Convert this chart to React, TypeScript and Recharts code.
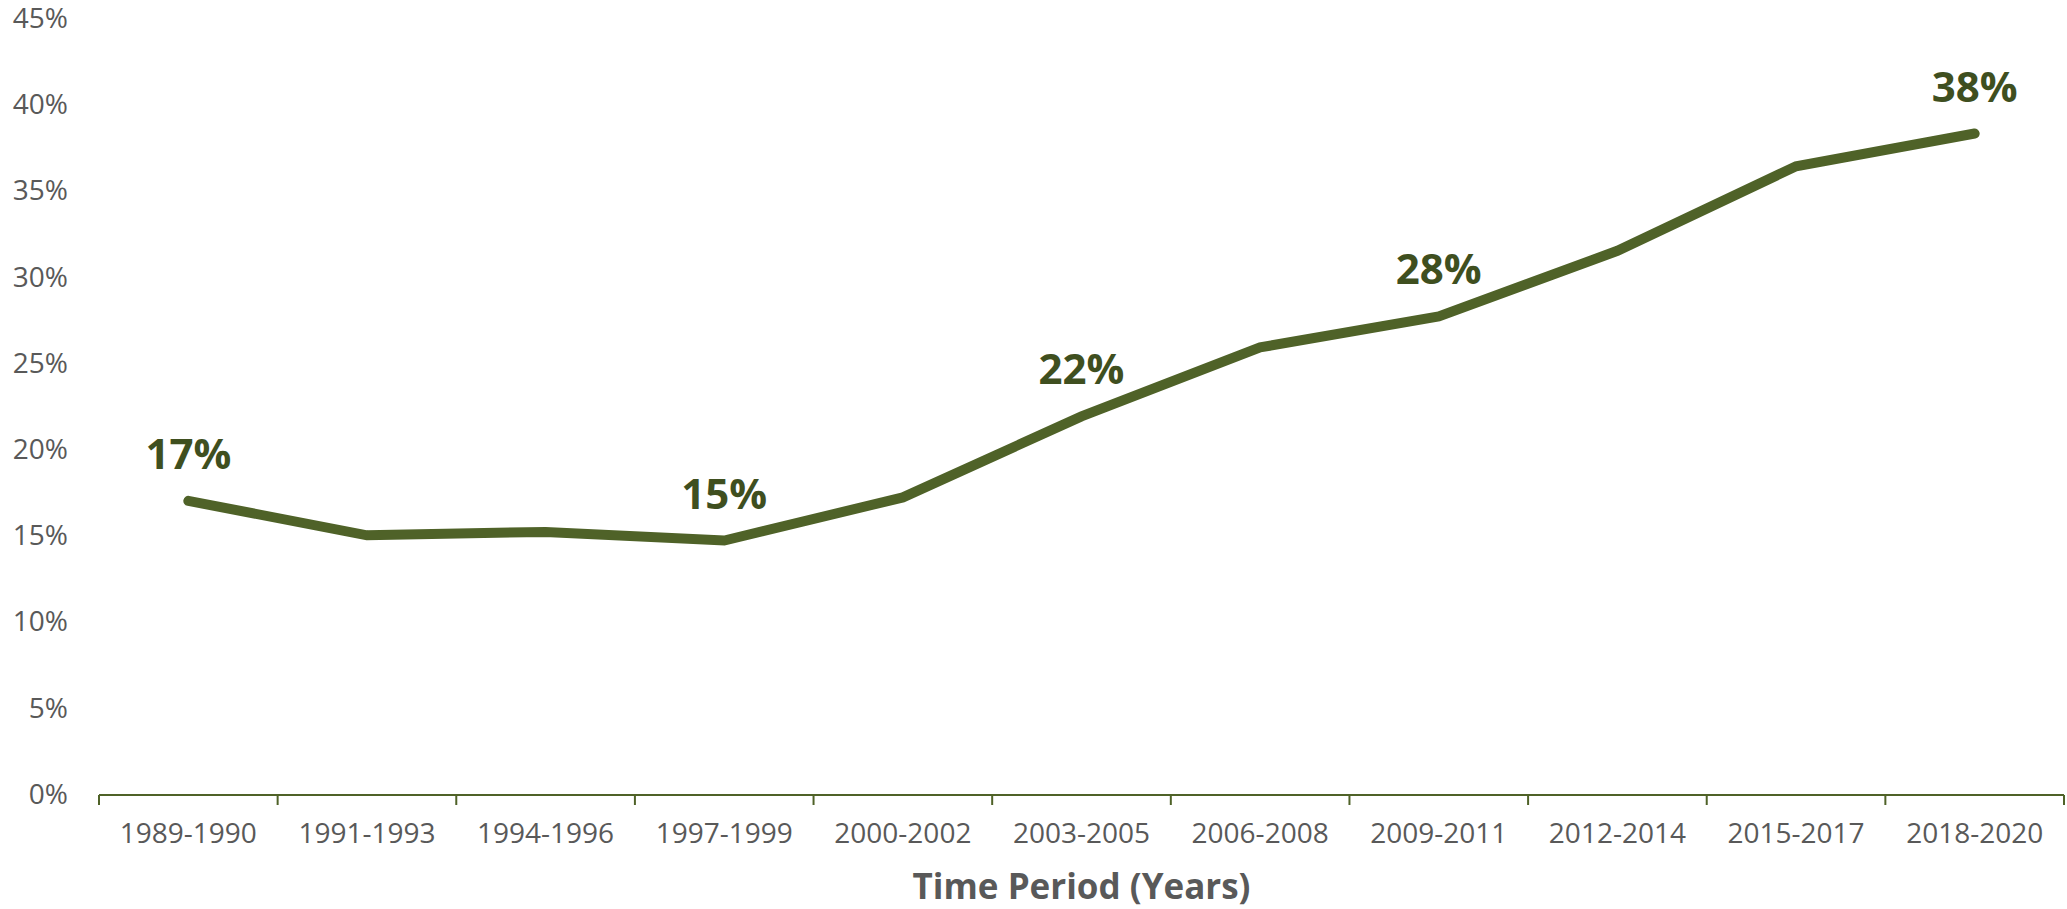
import { LabelList, Line, LineChart, XAxis, YAxis } from "recharts";

const periods = [
    "1989-1990", "1991-1993", "1994-1996", "1997-1999", "2000-2002", "2003-2005",
    "2006-2008", "2009-2011", "2012-2014", "2015-2017", "2018-2020",
];
const shares = [17.0, 15.0, 15.2, 14.7, 17.2, 21.9, 25.9, 27.7, 31.5, 36.4, 38.3];
const labelledPeriods = ["1989-1990", "1997-1999", "2003-2005", "2009-2011", "2018-2020"];
const yTicks = [0, 5, 10, 15, 20, 25, 30, 35, 40, 45];

const data = periods.map((p, i) => ({ period: p, pos: i + 0.5, share: shares[i] }));
const boundaries = [...periods.map((_, i) => i), periods.length];
const centers = data.map(d => d.pos);

const FONT = "'Open Sans', sans-serif";
const OLIVE = "#4F6228";
const GREY = "#595959";

const renderLabel = (props: any) => {
    const { x, y, index } = props;
    if (!labelledPeriods.includes(periods[index])) return null;
    return (
        <text x={x} y={y - 32} textAnchor="middle" fill="#3F4F1F" fontSize={42} fontWeight={700} fontFamily={FONT}>
            {Math.round(shares[index])}%
        </text>
    );
};

export default function App() {
    return (
        <div style={{ position: 'absolute', left: 0, top: 0 }}>
            <LineChart width={2067} height={909} data={data} margin={{ top: 18, right: 3, left: 0, bottom: 0 }}>
                {/* category labels, sits right on the plot bottom */}
                <XAxis
                    xAxisId="cat"
                    type="number"
                    dataKey="pos"
                    domain={[0, periods.length]}
                    ticks={centers}
                    interval={0}
                    tickFormatter={v => periods[Math.floor(v)]}
                    axisLine={false}
                    tickLine={false}
                    tickSize={0}
                    tickMargin={29}
                    height={1}
                    tick={{ fill: GREY, fontSize: 28, fontFamily: FONT }}
                />
                {/* axis line + ticks between categories, and the title */}
                <XAxis
                    xAxisId="grid"
                    type="number"
                    dataKey="pos"
                    domain={[0, periods.length]}
                    ticks={boundaries}
                    interval={0}
                    tickFormatter={() => ''}
                    tickSize={10}
                    height={114}
                    axisLine={{ stroke: OLIVE, strokeWidth: 2 }}
                    tickLine={{ stroke: OLIVE, strokeWidth: 2 }}
                    label={{ value: 'Time Period (Years)', position: 'insideBottom', offset: 10, fill: GREY, fontSize: 35, fontWeight: 700, fontFamily: FONT }}
                />
                <YAxis
                    domain={[0, 45]}
                    ticks={yTicks}
                    tickFormatter={v => `${v}%`}
                    width={99}
                    axisLine={false}
                    tickLine={false}
                    tickSize={0}
                    tickMargin={31}
                    tick={{ fill: GREY, fontSize: 28, fontFamily: FONT }}
                />
                <Line
                    xAxisId="cat"
                    dataKey="share"
                    stroke={OLIVE}
                    strokeWidth={10}
                    strokeLinecap="round"
                    dot={false}
                    isAnimationActive={false}
                >
                    <LabelList dataKey="period" content={renderLabel} />
                </Line>
            </LineChart>
        </div>
    )
}
